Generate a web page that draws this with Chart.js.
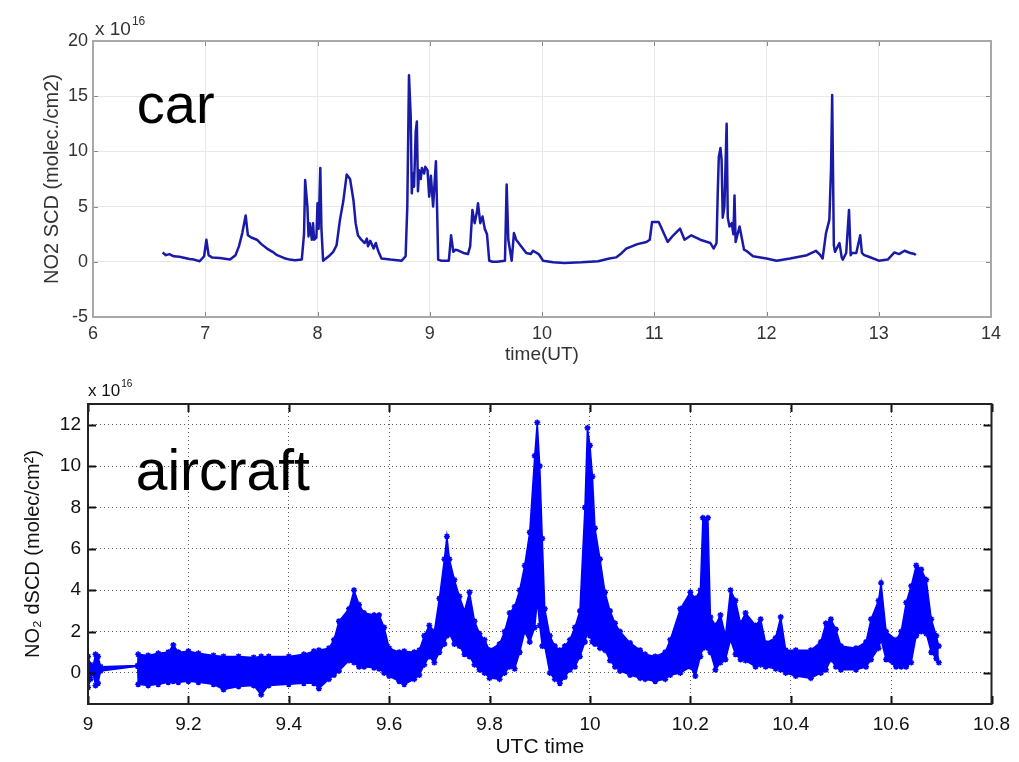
<!DOCTYPE html>
<html>
<head>
<meta charset="utf-8">
<title>NO2 slant columns: car vs aircraft</title>
<script src="https://cdn.jsdelivr.net/npm/chart.js@4.4.1/dist/chart.umd.min.js"></script>
<style>
  body { margin: 0; background: #fff; }
  #wrap { position: relative; width: 1019px; height: 762px; }
  canvas { position: absolute; left: 0; }
  #carChart { top: 0; }
  #airChart { top: 370px; }
</style>
</head>
<body>
<div id="wrap">
  <canvas id="carChart" width="1019" height="370"></canvas>
  <canvas id="airChart" width="1019" height="392"></canvas>
</div>
<script>
// car measurements, NO2 SCD in units of 1e16 molec/cm2
const carTime = [6.62, 6.65, 6.68, 6.72, 6.77, 6.82, 6.86, 6.9, 6.95, 6.99, 7.01, 7.03, 7.06, 7.13, 7.22, 7.27, 7.3, 7.33, 7.36, 7.38,
  7.41, 7.46, 7.5, 7.55, 7.6, 7.64, 7.7, 7.75, 7.8, 7.86, 7.88, 7.89, 7.91, 7.92, 7.93, 7.95, 7.96, 7.97, 7.99, 8.0,
  8.01, 8.025, 8.035, 8.05, 8.1, 8.14, 8.17, 8.2, 8.23, 8.26, 8.29, 8.32, 8.34, 8.36, 8.39, 8.42, 8.44, 8.45, 8.47, 8.5,
  8.52, 8.54, 8.57, 8.65, 8.75, 8.785, 8.8, 8.815, 8.83, 8.84, 8.85, 8.86, 8.875, 8.885, 8.895, 8.905, 8.92, 8.93, 8.95, 8.96,
  8.98, 8.995, 9.01, 9.03, 9.045, 9.055, 9.065, 9.075, 9.1, 9.17, 9.19, 9.21, 9.23, 9.26, 9.3, 9.34, 9.36, 9.38, 9.4, 9.42,
  9.43, 9.45, 9.47, 9.49, 9.51, 9.53, 9.56, 9.6, 9.67, 9.685, 9.7, 9.73, 9.75, 9.77, 9.8, 9.86, 9.9, 9.92, 9.97, 10.01,
  10.1, 10.2, 10.35, 10.5, 10.6, 10.66, 10.7, 10.75, 10.8, 10.85, 10.93, 10.96, 10.98, 11.04, 11.08, 11.12, 11.17, 11.23, 11.27, 11.33,
  11.41, 11.5, 11.53, 11.555, 11.565, 11.575, 11.59, 11.6, 11.61, 11.625, 11.645, 11.655, 11.67, 11.69, 11.705, 11.715, 11.725, 11.76, 11.8, 11.82,
  11.88, 12.0, 12.09, 12.21, 12.36, 12.44, 12.48, 12.5, 12.53, 12.56, 12.575, 12.585, 12.6, 12.61, 12.65, 12.67, 12.68, 12.71, 12.735, 12.75,
  12.76, 12.8, 12.835, 12.85, 12.87, 12.9, 13.0, 13.08, 13.14, 13.18, 13.23, 13.28, 13.32, 13.33];
const carNO2 = [0.85, 0.6, 0.7, 0.5, 0.45, 0.35, 0.25, 0.2, 0.05, 0.5, 2.0, 0.6, 0.4, 0.35, 0.2, 0.6, 1.4, 2.6, 4.2, 2.4,
  2.2, 2.0, 1.6, 1.2, 0.9, 0.6, 0.35, 0.2, 0.15, 0.2, 2.5, 7.4, 5.0, 2.3, 3.5, 2.0, 3.5, 2.0, 2.2, 5.3,
  3.0, 8.5, 3.0, 0.1, 0.5, 0.9, 1.5, 3.8, 5.5, 7.9, 7.5, 5.6, 3.5, 2.4, 2.0, 1.7, 2.1, 1.4, 1.9, 1.2,
  1.7, 1.0, 0.3, 0.2, 0.1, 0.5, 5.0, 16.9, 13.3, 6.2, 8.0, 6.8, 11.8, 12.7, 6.4, 8.3, 7.5, 8.5, 8.0, 8.6,
  8.3, 5.9, 7.8, 5.0, 7.5, 9.1, 5.0, 0.2, 0.1, 0.1, 2.4, 0.9, 1.1, 1.0, 0.8, 0.7, 1.4, 4.7, 3.5, 4.5,
  5.3, 3.5, 4.1, 3.0, 2.5, 0.1, 0.0, 0.0, 0.1, 7.0, 2.0, 0.1, 2.6, 2.0, 1.6, 0.8, 0.7, 1.0, 0.7, 0.1,
  -0.05, -0.1, -0.05, 0.05, 0.3, 0.4, 0.7, 1.2, 1.4, 1.6, 1.8, 2.0, 3.6, 3.6, 2.7, 1.8, 2.4, 3.0, 2.0, 2.4,
  2.0, 1.7, 1.2, 1.7, 6.0, 9.5, 10.3, 9.2, 4.0, 5.0, 12.5, 4.0, 3.2, 3.5, 2.5, 6.0, 1.8, 3.2, 1.1, 1.0,
  0.5, 0.3, 0.1, 0.3, 0.6, 1.0, 0.6, 0.3, 2.6, 3.8, 8.5, 15.1, 1.5, 0.9, 1.7, 0.4, 0.2, 0.8, 4.7, 0.6,
  0.8, 0.8, 2.4, 0.8, 0.6, 0.5, 0.1, 0.2, 0.85, 0.7, 1.0, 0.8, 0.7, 0.6];
const carXTicks = [6, 7, 8, 9, 10, 11, 12, 13, 14];
const carYTicks = [-5, 0, 5, 10, 15, 20];

// aircraft measurements, NO2 dSCD in units of 1e16 molec/cm2 (upper / lower edge of the scatter)
const airTime = [9.0, 9.005, 9.01, 9.015, 9.02, 9.025, 9.099, 9.1, 9.12, 9.14, 9.16, 9.17, 9.18, 9.2, 9.22, 9.25, 9.27, 9.3, 9.33, 9.345,
  9.36, 9.4, 9.43, 9.45, 9.46, 9.48, 9.49, 9.5, 9.52, 9.53, 9.54, 9.55, 9.57, 9.58, 9.59, 9.6, 9.62, 9.63, 9.65, 9.66,
  9.67, 9.68, 9.69, 9.7, 9.71, 9.715, 9.72, 9.73, 9.74, 9.75, 9.76, 9.77, 9.78, 9.79, 9.8, 9.82, 9.83, 9.84, 9.85, 9.86,
  9.87, 9.88, 9.89, 9.895, 9.9, 9.905, 9.91, 9.92, 9.93, 9.94, 9.95, 9.96, 9.97, 9.98, 9.99, 9.995, 10.0, 10.005, 10.01, 10.02,
  10.03, 10.04, 10.05, 10.06, 10.08, 10.1, 10.11, 10.13, 10.15, 10.16, 10.18, 10.2, 10.21, 10.22, 10.225, 10.235, 10.24, 10.25, 10.26, 10.27,
  10.28, 10.29, 10.3, 10.31, 10.33, 10.34, 10.35, 10.37, 10.38, 10.39, 10.41, 10.44, 10.46, 10.47, 10.48, 10.49, 10.5, 10.53, 10.55, 10.56,
  10.575, 10.58, 10.59, 10.61, 10.62, 10.63, 10.64, 10.65, 10.66, 10.67, 10.68, 10.69, 10.695];
const airUpper = [0.8, 0.4, 0.3, 0.9, 0.8, 0.3, 0.36, 0.9, 0.85, 0.95, 1.0, 1.35, 1.0, 1.05, 0.95, 0.85, 0.8, 0.8, 0.75, 0.8,
  0.8, 0.8, 0.9, 1.05, 1.1, 1.2, 1.6, 2.5, 3.1, 4.0, 3.3, 2.9, 2.8, 2.8, 2.2, 1.2, 1.0, 1.05, 1.0, 1.1,
  1.8, 2.3, 2.0, 3.6, 5.5, 6.6, 5.5, 4.5, 3.7, 3.0, 3.9, 2.5, 1.9, 1.6, 1.1, 1.4, 2.0, 2.9, 3.2, 4.0,
  5.2, 6.8, 10.5, 12.1, 10.0, 6.5, 3.1, 1.8, 1.3, 1.1, 1.3, 1.6, 2.2, 3.0, 8.0, 11.85, 11.0, 9.5, 7.0, 5.5,
  3.9, 3.0, 2.4, 2.0, 1.45, 1.1, 0.9, 0.8, 1.0, 1.6, 3.1, 3.9, 3.6, 4.0, 7.5, 7.5, 2.7, 2.3, 2.8, 1.8,
  4.0, 3.5, 2.4, 2.9, 2.3, 2.6, 1.45, 1.7, 2.7, 1.1, 1.1, 1.1, 1.5, 2.4, 2.6, 2.1, 1.3, 1.2, 1.5, 2.6,
  3.5, 4.35, 2.0, 1.6, 2.0, 3.4, 4.2, 5.2, 5.0, 4.5, 2.6, 1.8, 1.3];
const airLower = [-0.7, -0.3, 0.0, -0.6, -0.5, 0.1, 0.32, -0.55, -0.6, -0.55, -0.45, -0.4, -0.45, -0.4, -0.45, -0.55, -0.8, -0.65, -0.6, -1.05,
  -0.6, -0.55, -0.5, -0.5, -0.75, -0.3, -0.1, 0.1, 0.6, 0.5, 0.3, 0.3, 0.25, 0.2, 0.0, -0.15, -0.4, -0.55, -0.3, -0.1,
  0.4, 0.8, 0.5, 1.0, 1.4, 1.8, 1.9, 1.4, 1.3, 0.9, 0.8, 0.4, 0.15, 0.0, -0.25, -0.3, 0.0, 0.3, 0.2, 1.0,
  2.0, 1.5, 2.2, 3.5, 2.3, 1.3, 1.3, 0.0, -0.3, -0.5, -0.2, 0.15, 0.3, 0.8, 1.5, 2.0, 1.8, 1.5, 1.4, 1.2,
  1.1, 0.6, 0.3, 0.1, -0.1, -0.25, -0.3, -0.4, -0.3, -0.1, 0.0, 0.3, -0.15, 0.8, 1.2, 1.2, 1.0, 0.15, 0.5, 0.65,
  1.6, 0.9, 0.65, 0.6, 0.3, 0.4, 0.3, 0.2, 0.15, 0.0, -0.15, -0.25, 0.0, 0.15, 0.65, 0.3, 0.15, 0.15, 0.3, 0.65,
  1.2, 1.6, 0.65, 0.3, 0.3, 0.3, 0.5, 1.8, 2.0, 1.9, 1.0, 0.7, 0.5];
const airXTicks = [9, 9.2, 9.4, 9.6, 9.8, 10, 10.2, 10.4, 10.6, 10.8];
const airYTicks = [0, 2, 4, 6, 8, 10, 12];

const FONT = "'Liberation Sans', Arial, Helvetica, sans-serif";

// frame, inward tick marks, "x 10^16" multiplier and the big panel label
const panelDecor = {
  id: 'panelDecor',
  afterDraw(chart, args, o) {
    const { ctx, chartArea: a, scales: { x, y } } = chart;
    ctx.save();
    ctx.strokeStyle = o.tickColor;
    ctx.lineWidth = o.tickWidth;
    ctx.beginPath();
    x.ticks.forEach(t => {
      const px = Math.round(x.getPixelForValue(t.value)) + 0.5;
      ctx.moveTo(px, a.top); ctx.lineTo(px, a.top + o.tickLen);
      ctx.moveTo(px, a.bottom); ctx.lineTo(px, a.bottom - o.tickLen);
    });
    y.ticks.forEach(t => {
      const py = Math.round(y.getPixelForValue(t.value)) + 0.5;
      ctx.moveTo(a.left, py); ctx.lineTo(a.left + o.tickLen, py);
      ctx.moveTo(a.right, py); ctx.lineTo(a.right - o.tickLen, py);
    });
    ctx.stroke();

    ctx.strokeStyle = o.frameColor;
    ctx.lineWidth = o.frameWidth;
    ctx.strokeRect(a.left, a.top, a.right - a.left, a.bottom - a.top);

    ctx.fillStyle = o.textColor;
    ctx.textAlign = 'left';
    ctx.textBaseline = 'alphabetic';
    ctx.font = o.expFont;
    const ex = a.left + o.expDx, ey = a.top + o.expDy;
    ctx.fillText('x 10', ex, ey);
    const w = ctx.measureText('x 10').width;
    ctx.font = o.supFont;
    ctx.fillText('16', ex + w + 1, ey - o.supRise);

    ctx.fillStyle = '#000';
    ctx.font = o.labelFont;
    ctx.fillText(o.label, x.getPixelForValue(o.labelAt[0]), y.getPixelForValue(o.labelAt[1]));
    ctx.restore();
  }
};

function fixedTicks(list) {
  return s => { s.ticks = list.map(v => ({ value: v })); };
}

// plain labels: 9, 9.2 ... 10, 10.2
function plainNumber(v) {
  return String(Math.round(v * 10) / 10);
}

// upper panel: car
new Chart(document.getElementById('carChart'), {
  type: 'line',
  data: {
    datasets: [{
      data: carTime.map((t, i) => ({ x: t, y: carNO2[i] })),
      borderColor: '#1a1aa8',
      borderWidth: 2.5,
      borderJoinStyle: 'round',
      pointRadius: 0,
      tension: 0,
      fill: false
    }]
  },
  options: {
    responsive: false,
    animation: false,
    events: [],
    layout: { padding: { left: 0, top: 41, right: 28, bottom: 0 } },
    plugins: {
      legend: { display: false },
      tooltip: { enabled: false },
      panelDecor: {
        tickColor: '#888', tickWidth: 1, tickLen: 5,
        frameColor: '#a8a8a8', frameWidth: 2,
        textColor: '#333',
        expFont: '19px ' + FONT, supFont: '12px ' + FONT, expDx: 2, expDy: -6, supRise: 10,
        label: 'car', labelFont: '56px ' + FONT, labelAt: [6.39, 12.6]
      }
    },
    scales: {
      x: {
        type: 'linear', min: 6, max: 14,
        afterBuildTicks: fixedTicks(carXTicks),
        afterFit: s => { s.height = 53; },
        grid: { color: '#e8e8e8', drawTicks: false },
        border: { display: false },
        ticks: { color: '#333', font: { family: FONT, size: 18 }, padding: 6, autoSkip: false, maxRotation: 0, callback: plainNumber },
        title: { display: true, text: 'time(UT)', color: '#333', font: { family: FONT, size: 19 }, padding: { top: 0, bottom: 4 } }
      },
      y: {
        type: 'linear', min: -5, max: 20,
        afterBuildTicks: fixedTicks(carYTicks),
        afterFit: s => { s.width = 93; },
        grid: { color: '#e8e8e8', drawTicks: false },
        border: { display: false },
        ticks: { color: '#333', font: { family: FONT, size: 18 }, padding: 5, autoSkip: false, callback: plainNumber },
        title: { display: true, text: 'NO2 SCD (molec./cm2)', color: '#333', font: { family: FONT, size: 20 }, padding: { top: 40, bottom: 0 } }
      }
    }
  },
  plugins: [panelDecor]
});

// lower panel: aircraft
const airPoint = { pointStyle: 'star', pointRadius: 3, pointBorderWidth: 1.5, pointBorderColor: '#0000ff', pointBackgroundColor: '#0000ff' };
new Chart(document.getElementById('airChart'), {
  type: 'line',
  data: {
    datasets: [
      Object.assign({
        data: airTime.map((t, i) => ({ x: t, y: airUpper[i] })),
        borderColor: '#0000ff', borderWidth: 1.5, tension: 0, fill: false
      }, airPoint),
      Object.assign({
        data: airTime.map((t, i) => ({ x: t, y: airLower[i] })),
        borderColor: '#0000ff', borderWidth: 1.5, tension: 0,
        fill: '-1', backgroundColor: '#0000ff'
      }, airPoint)
    ]
  },
  options: {
    responsive: false,
    animation: false,
    events: [],
    layout: { padding: { left: 0, top: 34, right: 23, bottom: 0 } },
    plugins: {
      legend: { display: false },
      tooltip: { enabled: false },
      panelDecor: {
        tickColor: '#111', tickWidth: 2, tickLen: 8,
        frameColor: '#222', frameWidth: 2,
        textColor: '#111',
        expFont: '17px ' + FONT, supFont: '10px ' + FONT, expDx: 0, expDy: -8, supRise: 9,
        label: 'aircraft', labelFont: '57px ' + FONT, labelAt: [9.095, 8.85]
      }
    },
    scales: {
      x: {
        type: 'linear', min: 9, max: 10.8,
        afterBuildTicks: fixedTicks(airXTicks),
        afterFit: s => { s.height = 58; },
        grid: { color: '#555', lineWidth: 1, drawTicks: false },
        border: { display: false, dash: [1, 3] },
        ticks: { color: '#111', font: { family: FONT, size: 19 }, padding: 9, autoSkip: false, maxRotation: 0, callback: plainNumber },
        title: { display: true, text: 'UTC time', color: '#111', font: { family: FONT, size: 21 }, padding: { top: 0, bottom: 2 } }
      },
      y: {
        type: 'linear', min: -1.5, max: 13,
        afterBuildTicks: fixedTicks(airYTicks),
        afterFit: s => { s.width = 88; },
        grid: { color: '#555', lineWidth: 1, drawTicks: false },
        border: { display: false, dash: [1, 3] },
        ticks: { color: '#111', font: { family: FONT, size: 19 }, padding: 7, autoSkip: false, callback: plainNumber },
        title: { display: true, text: 'NO₂ dSCD (molec/cm²)', color: '#111', font: { family: FONT, size: 20 }, padding: { top: 21, bottom: 0 } }
      }
    }
  },
  plugins: [panelDecor]
});
</script>
</body>
</html>
